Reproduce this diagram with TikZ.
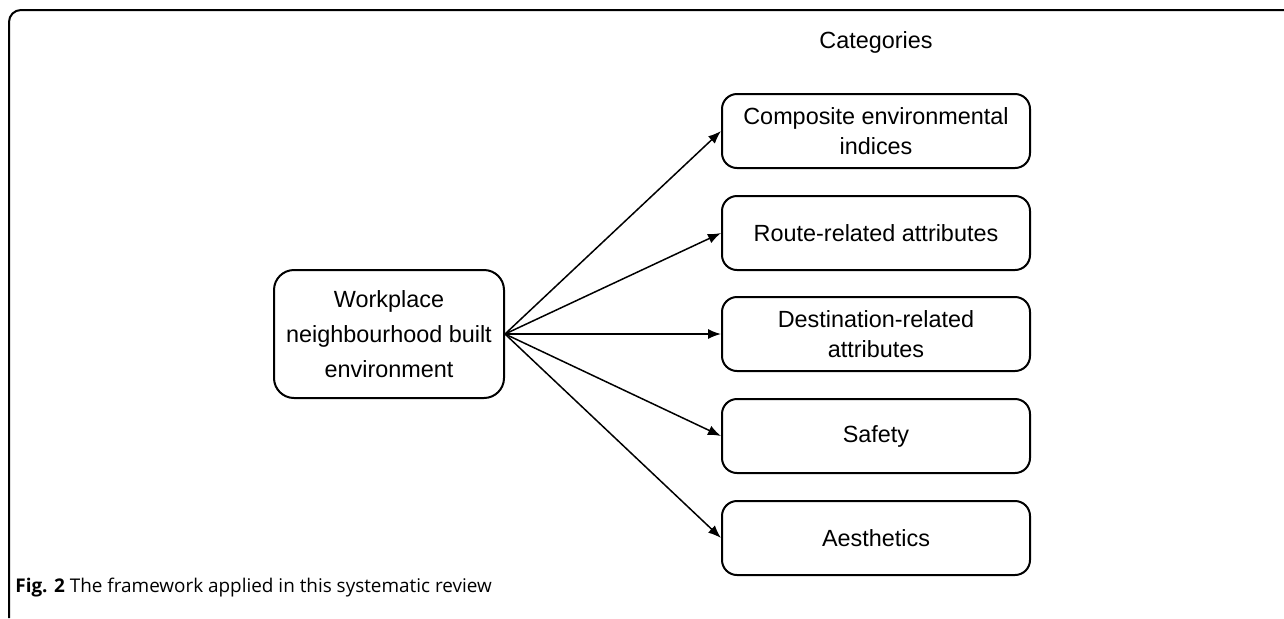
\documentclass[tikz,border=0pt]{standalone}
\usepackage{fontspec}
\setmainfont{Liberation Sans}
\newfontfamily\capfont{Open Sans}
\usetikzlibrary{arrows.meta,positioning}
\tikzset{
    source/.style={draw, rounded corners=10pt, line width=1pt, minimum width=115pt, minimum height=64pt, align=center, inner sep=2pt, font=\fontsize{11.7}{17.5}\selectfont},
    category/.style={draw, rounded corners=7.5pt, line width=1pt, minimum width=154pt, minimum height=37pt, align=center, inner sep=2pt, font=\fontsize{11.7}{15}\selectfont},
    link/.style={draw, line width=0.75pt, -{Latex[length=6.5pt,width=5pt]}},
    frame/.style={draw, line width=1pt, rounded corners=6pt},
}
\begin{document}
\begin{tikzpicture}[x=0.5pt, y=-0.5pt]
        \useasboundingbox (0,0) rectangle (1284,618);
        \draw[frame] (9,618) -- (9,10) -- (1284,10);

        \node[font=\fontsize{11.7}{14}\selectfont] (title) at (876,42) {Categories};
        \node[source] (wnbe) at (389,334) {Workplace\\neighbourhood built\\environment};

        \foreach \name/\ypos/\txt in {comp/131/{Composite environmental\\indices}, route/233/{Route-related attributes}, dest/334/{Destination-related\\attributes}, safety/436/{Safety}, aesth/538/{Aesthetics}}
            \node[category] (\name) at (876,\ypos) {\txt};

        \foreach \to in {comp, route, dest, safety, aesth}
            \draw[link] (wnbe.east) -- (\to.west);

        \node[anchor=west, inner sep=0pt, font=\capfont\fontsize{9.45}{11}\selectfont] (caption) at (15,588) {\textbf{Fig. 2} The framework applied in this systematic review};
    \end{tikzpicture}
\end{document}
